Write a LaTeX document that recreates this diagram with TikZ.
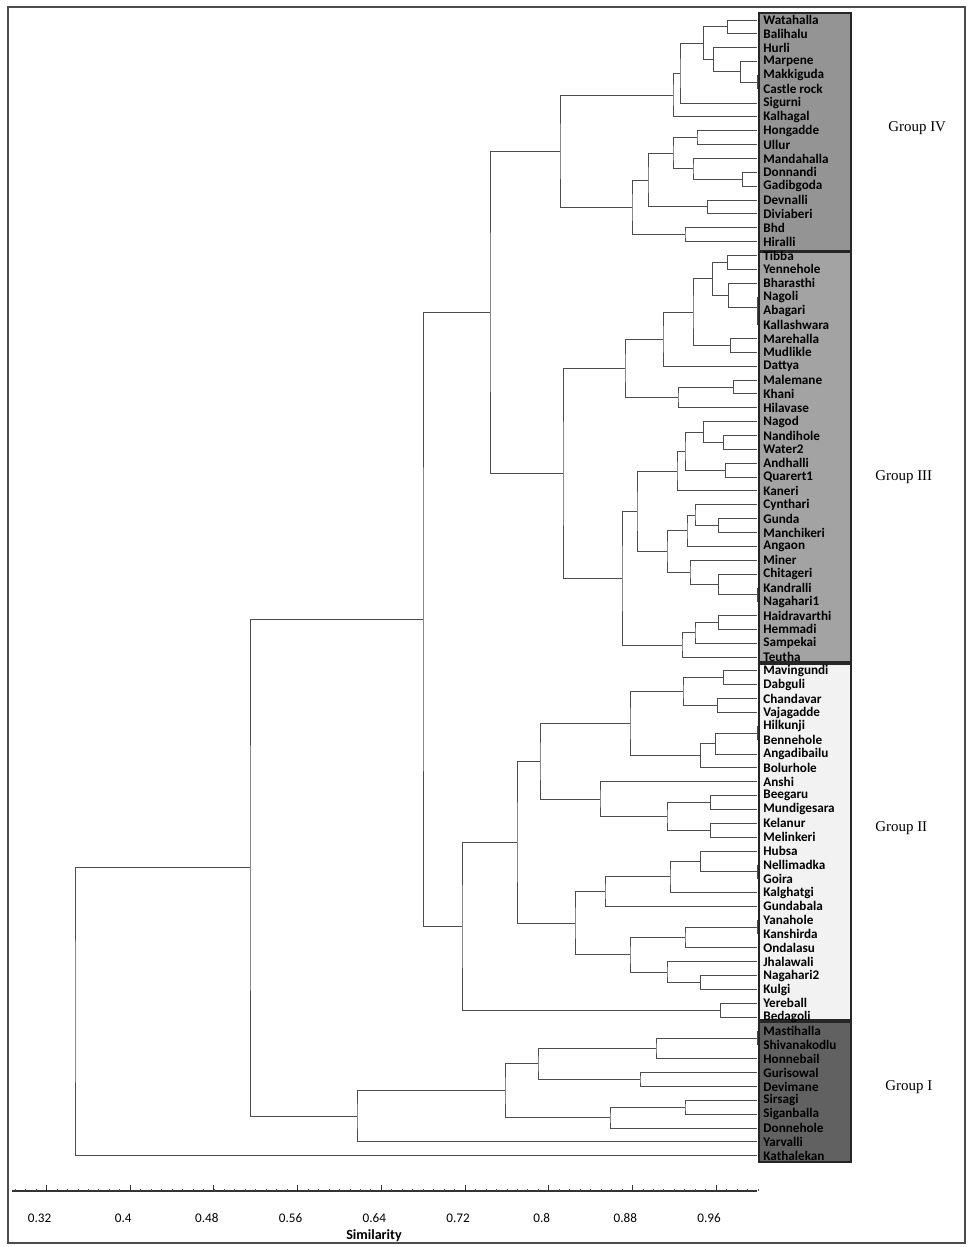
\documentclass[tikz,border=0pt]{standalone}
\usepackage{fontspec}
\setmainfont{Liberation Serif}
\newfontfamily\lblfont{Carlito}
\usetikzlibrary{calc}
\newcommand\jn[4]{%
  \coordinate (m#1) at ($(#3)!0.5!(#4)$);
  \coordinate (#1) at (#2,0 |- m#1);
  \draw[br] (#3) -| (#1) |- (#4);}
\begin{document}
\begin{tikzpicture}[x=0.02cm,y=-0.02cm,
  br/.style={draw=black!70,line width=0.55pt},
  lab/.style={font=\lblfont\bfseries\fontsize{7.5}{8}\selectfont,anchor=west,inner sep=0pt,text=black},
  grp/.style={font=\fontsize{8.5}{10}\selectfont,anchor=west,inner sep=0pt},
  tick/.style={font=\lblfont\fontsize{7.5}{8}\selectfont,inner sep=0pt},
  gbox/.style={draw=black!85,line width=0.8pt}]
\useasboundingbox (0,0) rectangle (970,1247);
\draw[black!70,line width=0.8pt] (8,7) rectangle (965,1243);
% group boxes
\draw[gbox,fill=black!42] (759,13) rectangle (851,251);
\draw[gbox,fill=black!36] (759,252) rectangle (851,662);
\draw[gbox,fill=black!5] (759,664) rectangle (851,1020);
\draw[gbox,fill=black!62] (759,1022) rectangle (851,1162);
% leaves
\foreach \nm [count=\i from 0] in {Watahalla,Balihalu,Hurli,Marpene,Makkiguda,Castle rock,Sigurni,Kalhagal,Hongadde,Ullur,Mandahalla,Donnandi,Gadibgoda,Devnalli,Diviaberi,Bhd,Hiralli,
Tibba,Yennehole,Bharasthi,Nagoli,Abagari,Kallashwara,Marehalla,Mudlikle,Dattya,Malemane,Khani,Hilavase,Nagod,Nandihole,Water2,Andhalli,Quarert1,Kaneri,Cynthari,Gunda,Manchikeri,Angaon,Miner,Chitageri,Kandralli,Nagahari1,Haidravarthi,Hemmadi,Sampekai,Teutha,
Mavingundi,Dabguli,Chandavar,Vajagadde,Hilkunji,Bennehole,Angadibailu,Bolurhole,Anshi,Beegaru,Mundigesara,Kelanur,Melinkeri,Hubsa,Nellimadka,Goira,Kalghatgi,Gundabala,Yanahole,Kanshirda,Ondalasu,Jhalawali,Nagahari2,Kulgi,Yereball,Bedagoli,
Mastihalla,Shivanakodlu,Honnebail,Gurisowal,Devimane,Sirsagi,Siganballa,Donnehole,Yarvalli,Kathalekan}{
  \coordinate (L\i) at (757,{20+13.85*\i});
  \node[lab] (t\i) at (763,{20+13.85*\i}) {\nm};
}
% Group IV
\jn{a1}{727}{L0}{L1}
\jn{a2}{757}{L4}{L5}
\jn{a3}{740}{L3}{a2}
\jn{a4}{713}{L2}{a3}
\jn{a5}{703}{a1}{a4}
\jn{a6}{680}{a5}{L6}
\jn{a7}{673}{a6}{L7}
\jn{b1}{697}{L8}{L9}
\jn{b2}{742}{L11}{L12}
\jn{b3}{693}{L10}{b2}
\jn{b4}{673}{b1}{b3}
\jn{b5}{707}{L13}{L14}
\jn{b6}{648}{b4}{b5}
\jn{b7}{685}{L15}{L16}
\jn{b8}{632}{b6}{b7}
\jn{g4}{560}{a7}{b8}
% Group III
\jn{c1}{727}{L17}{L18}
\jn{c2}{757}{L21}{L22}
\jn{c3}{757}{L20}{c2}
\jn{c4}{728}{L19}{c3}
\jn{c5}{712}{c1}{c4}
\jn{c6}{730}{L23}{L24}
\jn{c7}{693}{c5}{c6}
\jn{c8}{663}{c7}{L25}
\jn{c9}{733}{L26}{L27}
\jn{c10}{678}{c9}{L28}
\jn{c11}{625}{c8}{c10}
\jn{d1}{723}{L30}{L31}
\jn{d2}{703}{L29}{d1}
\jn{d3}{725}{L32}{L33}
\jn{d4}{685}{d2}{d3}
\jn{d5}{677}{d4}{L34}
\jn{d6}{718}{L36}{L37}
\jn{d7}{695}{L35}{d6}
\jn{d8}{687}{d7}{L38}
\jn{d9}{757}{L41}{L42}
\jn{d10}{718}{L40}{d9}
\jn{d11}{690}{L39}{d10}
\jn{d12}{667}{d8}{d11}
\jn{d13}{637}{d5}{d12}
\jn{d14}{718}{L43}{L44}
\jn{d15}{695}{d14}{L45}
\jn{d16}{682}{d15}{L46}
\jn{d17}{622}{d13}{d16}
\jn{g3}{563}{c11}{d17}
\jn{r1}{490}{g4}{g3}
% Group II
\jn{e1}{723}{L47}{L48}
\jn{e2}{717}{L49}{L50}
\jn{e3}{683}{e1}{e2}
\jn{e4}{757}{L51}{L52}
\jn{e5}{715}{e4}{L53}
\jn{e6}{700}{e5}{L54}
\jn{e7}{630}{e3}{e6}
\jn{e8}{710}{L56}{L57}
\jn{e9}{710}{L58}{L59}
\jn{e10}{667}{e8}{e9}
\jn{e11}{600}{L55}{e10}
\jn{e12}{540}{e7}{e11}
\jn{f1}{757}{L61}{L62}
\jn{f2}{700}{L60}{f1}
\jn{f3}{670}{f2}{L63}
\jn{f4}{605}{f3}{L64}
\jn{f5}{757}{L65}{L66}
\jn{f6}{685}{f5}{L67}
\jn{f7}{700}{L69}{L70}
\jn{f8}{667}{L68}{f7}
\jn{f9}{630}{f6}{f8}
\jn{f10}{575}{f4}{f9}
\jn{f11}{517}{e12}{f10}
\jn{f12}{720}{L71}{L72}
\jn{g2}{462}{f11}{f12}
\jn{r2}{423}{r1}{g2}
% Group I
\jn{h1}{757}{L73}{L74}
\jn{h2}{656}{h1}{L75}
\jn{h3}{640}{L76}{L77}
\jn{h4}{538}{h2}{h3}
\jn{h5}{685}{L78}{L79}
\jn{h6}{610}{h5}{L80}
\jn{h7}{505}{h4}{h6}
\jn{g1}{357}{h7}{L81}
\jn{r3}{250}{r2}{g1}
\jn{r4}{75}{r3}{L82}
% group labels
\node[grp] (G4) at (888,128) {Group IV};
\node[grp] (G3) at (875,477) {Group III};
\node[grp] (G2) at (875,828) {Group II};
\node[grp] (G1) at (885,1087) {Group I};
% axis
\draw[black!80,line width=0.7pt] (12,1191) -- (757,1191);
\foreach \k in {-3,...,68} \draw[black!70,line width=0.4pt] ({46.5+10.4625*\k},1191) -- ++(0,-2.5);
\foreach \v [count=\k from 0] in {0.32,0.4,0.48,0.56,0.64,0.72,0.8,0.88,0.96}{
  \draw[black!80,line width=0.5pt] ({46.5+83.7*\k},1191) -- ++(0,-6);
  \node[tick] (tk\k) at ({39.5+83.7*\k},1218) {\v};
}
\node[font=\lblfont\bfseries\fontsize{8}{9}\selectfont,inner sep=0pt] (sim) at (374,1236) {Similarity};
\end{tikzpicture}
\end{document}
